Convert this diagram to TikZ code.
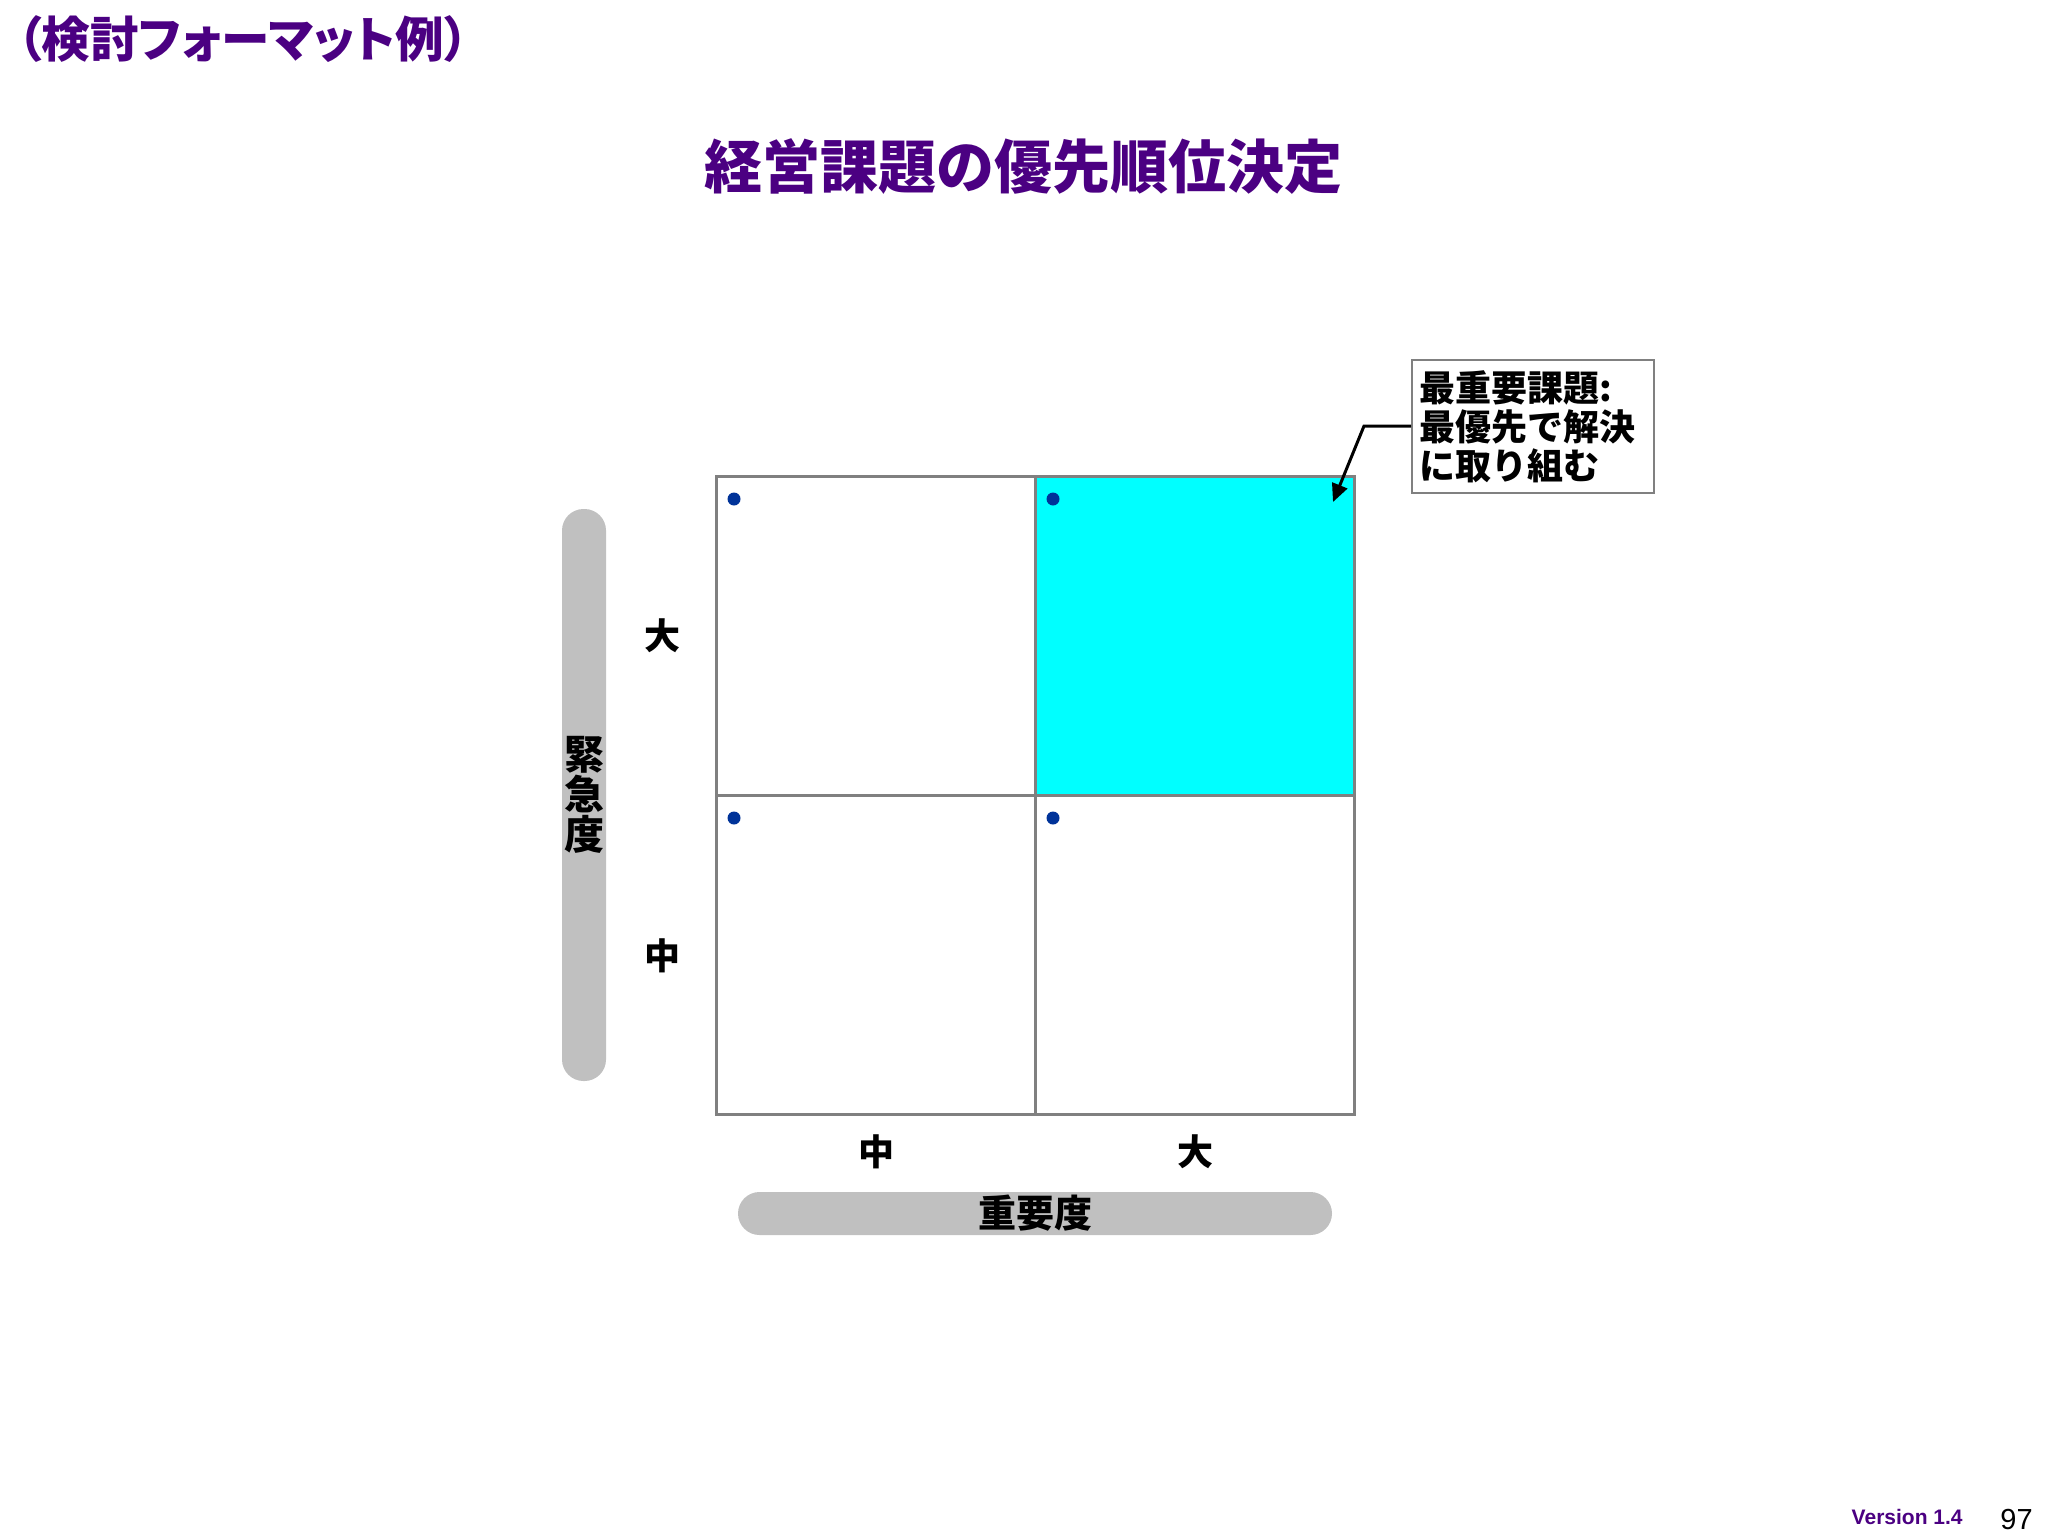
\documentclass[tikz,border=0pt]{standalone}
\usepackage{fontspec}
\setmainfont{Noto Sans CJK JP}
\newfontfamily\palt{Noto Sans CJK JP}[RawFeature=+palt]
\newfontfamily\arial{Liberation Sans}
\usetikzlibrary{arrows.meta}
\definecolor{ttlpurple}{RGB}{75,0,130}
\definecolor{gridgray}{RGB}{128,128,128}
\definecolor{barfill}{RGB}{192,192,192}
\definecolor{dotblue}{RGB}{0,51,153}
\definecolor{hicyan}{RGB}{0,255,255}
\tikzset{
  cellbox/.style={draw=gridgray, line width=1.5pt, minimum width=159.5pt, minimum height=159.5pt, inner sep=0pt},
  qdot/.style={circle, fill=dotblue, minimum size=6.5pt, inner sep=0pt},
  axislbl/.style={font=\fontsize{18pt}{19.5pt}\selectfont\bfseries, inner sep=0pt},
  axisbar/.style={fill=barfill, rounded corners=10.75pt, inner sep=0pt},
}
\begin{document}
\begin{tikzpicture}[x=0.5pt, y=-0.5pt]
\useasboundingbox (0,0) rectangle (2048,1536);
\fill[white] (0,0) rectangle (2048,1536);

% header and title
\node[anchor=west, text=ttlpurple, inner sep=0pt, font=\fontsize{24.3pt}{27pt}\selectfont\bfseries\palt] (hdr) at (17,39) {（検討フォーマット例）};
\node[text=ttlpurple, inner sep=0pt, font=\fontsize{29pt}{32pt}\selectfont\bfseries] (ttl) at (1023,167) {経営課題の優先順位決定};

% axis bars
\node[axisbar, minimum width=22pt, minimum height=286pt, font=\fontsize{20pt}{20pt}\selectfont\bfseries, align=center] (ybar) at (584,795) {緊\\急\\度};
\node[axisbar, minimum width=297pt, minimum height=21.5pt, font=\fontsize{19pt}{21pt}\selectfont\bfseries] (xbar) at (1035,1213.5) {重要度};

% grid cells
\node[cellbox] (c11) at (875.5,635.5) {};
\node[cellbox, fill=hicyan] (c12) at (1194.5,635.5) {};
\node[cellbox] (c21) at (875.5,954.5) {};
\node[cellbox] (c22) at (1194.5,954.5) {};

% dots
\node[qdot] (d11) at (734,499) {};
\node[qdot] (d12) at (1053,499) {};
\node[qdot] (d21) at (734,818) {};
\node[qdot] (d22) at (1053,818) {};

% axis labels
\node[axislbl] (ybig) at (662,636) {大};
\node[axislbl] (ymid) at (662,956) {中};
\node[axislbl] (xmid) at (876,1152) {中};
\node[axislbl] (xbig) at (1195,1152) {大};

% callout
\node[draw=gridgray, line width=1.2pt, anchor=north west, minimum width=121pt, minimum height=66.5pt, text width=114pt, inner xsep=3.5pt, inner ysep=0pt, align=left, font=\fontsize{18pt}{19.3pt}\selectfont\bfseries] (call) at (1411,359) {最重要課題:\\最優先で解決\\に取り組む};
\coordinate (bend) at (1364,426);
\coordinate (tip) at (1333,502);
\draw[black, line width=1.5pt, -{Triangle[length=9pt, width=8pt]}] (call.west |- bend) -- (bend) -- (tip);

% footer
\node[anchor=base east, inner sep=0pt, text=ttlpurple, font=\fontsize{10.5pt}{12pt}\selectfont\arial\bfseries] (ver) at (1963,1524) {Version 1.4};
\node[anchor=base east, inner sep=0pt, font=\fontsize{14.5pt}{16pt}\selectfont\arial] (pg) at (2033,1529) {97};
\end{tikzpicture}
\end{document}
